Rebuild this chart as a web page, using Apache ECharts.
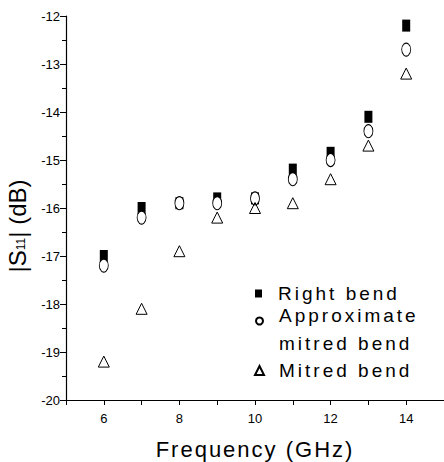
<!DOCTYPE html>
<html>
<head>
<meta charset="utf-8">
<script src="https://cdn.jsdelivr.net/npm/echarts@6/dist/echarts.min.js"></script>
<style>
  html, body { margin: 0; padding: 0; background: #fff; }
  #chart { width: 444px; height: 462px; }
  /* wide-tracked lettering of the legend and x-axis title */
  #chart text[style*="19px"] { letter-spacing: 3px; }
  #chart text[style*="22px"] { letter-spacing: 2px; }
</style>
</head>
<body>
<div id="chart"></div>
<script>
// ---- data ----
const frequencies = [6, 7, 8, 9, 10, 11, 12, 13, 14];
const rightBend   = [-17.0, -16.0, -15.9, -15.8, -15.8, -15.2, -14.85, -14.1, -12.2];
const approxMitred = [-17.2, -16.2, -15.9, -15.9, -15.8, -15.4, -15.0, -14.4, -12.7];
const mitredBend  = [-19.2, -18.1, -16.9, -16.2, -16.0, -15.9, -15.4, -14.7, -13.2];
const xLabelValues = [6, 8, 10, 12, 14];
const seriesNames = ['Right bend', 'Approximate mitred bend', 'Mitred bend'];

const FONT = '"Liberation Sans", Arial, sans-serif';
const pairs = vals => frequencies.map((f, i) => [f, vals[i]]);

const legendText = { fontFamily: FONT, fontSize: 19, color: '#000', lineHeight: 19, padding: [0, 0, 0, 11] };
const legendBase = {
  orient: 'vertical', padding: 0, left: 255, selectedMode: false,
  symbolKeepAspect: false, itemWidth: 7, itemHeight: 8
};

const chart = echarts.init(document.getElementById('chart'), null, { renderer: 'svg' });
chart.setOption({
  animation: false,
  backgroundColor: '#ffffff',
  grid: { left: 66, right: 0, top: 16, bottom: 62, outerBoundsMode: 'none', containLabel: false },
  xAxis: {
    type: 'value', min: 5, max: 15, interval: 1,
    name: 'Frequency (GHz)', nameLocation: 'middle', nameGap: 38,
    nameTextStyle: { fontFamily: FONT, fontSize: 22, color: '#000' },
    axisLine: { lineStyle: { color: '#000', width: 1.2 } },
    axisTick: { length: 5, lineStyle: { color: '#000', width: 1 } },
    axisLabel: { margin: 12, fontFamily: FONT, fontSize: 13, color: '#000',
      formatter: v => (xLabelValues.indexOf(v) >= 0 ? String(v) : '') },
    splitLine: { show: false }
  },
  yAxis: {
    type: 'value', min: -20, max: -12, interval: 1,
    name: '|S{s|11}| (dB)', nameLocation: 'middle', nameGap: 27,
    nameTextStyle: {
      fontFamily: FONT, fontSize: 24, color: '#000', lineHeight: 26, padding: [0, 36, 0, 0],
      rich: { s: { fontFamily: FONT, fontSize: 12, lineHeight: 12, verticalAlign: 'bottom', padding: [0, 0, 3, 0], color: '#000' } }
    },
    axisLine: { lineStyle: { color: '#000', width: 1.2 } },
    axisTick: { length: 6, lineStyle: { color: '#000', width: 1 } },
    minorTick: { show: true, splitNumber: 2, length: 4, lineStyle: { color: '#000', width: 1 } },
    axisLabel: { margin: 6, fontFamily: FONT, fontSize: 13, color: '#000' },
    splitLine: { show: false }, minorSplitLine: { show: false }
  },
  legend: [
    Object.assign({}, legendBase, { top: 284, data: [seriesNames[0]], textStyle: legendText }),
    Object.assign({}, legendBase, {
      top: 293, itemHeight: 9, data: [seriesNames[1]],
      formatter: () => '{a|Approximate}\n{b|mitred bend}',
      textStyle: Object.assign({}, legendText, { rich: {
        a: { fontFamily: FONT, fontSize: 19, color: '#000', lineHeight: 44 },
        b: { fontFamily: FONT, fontSize: 19, color: '#000', lineHeight: 12 } } })
    }),
    Object.assign({}, legendBase, { top: 361, left: 254, itemWidth: 9, itemHeight: 9,
      data: [seriesNames[2]], textStyle: Object.assign({}, legendText, { padding: [0, 0, 0, 10] }) })
  ],
  series: [
    { name: seriesNames[0], type: 'scatter', symbol: 'rect', symbolSize: [8, 12],
      itemStyle: { color: '#000', borderWidth: 0, opacity: 1 }, data: pairs(rightBend) },
    { name: seriesNames[1], type: 'scatter', symbol: 'circle', symbolSize: [9, 13],
      itemStyle: { color: '#fff', borderColor: '#000', borderWidth: 1, opacity: 1 }, data: pairs(approxMitred) },
    { name: seriesNames[2], type: 'scatter', symbol: 'triangle', symbolSize: [11, 11],
      itemStyle: { color: 'rgba(255,255,255,0)', borderColor: '#000', borderWidth: 1, opacity: 1 }, data: pairs(mitredBend) }
  ]
});
</script>
</body>
</html>
